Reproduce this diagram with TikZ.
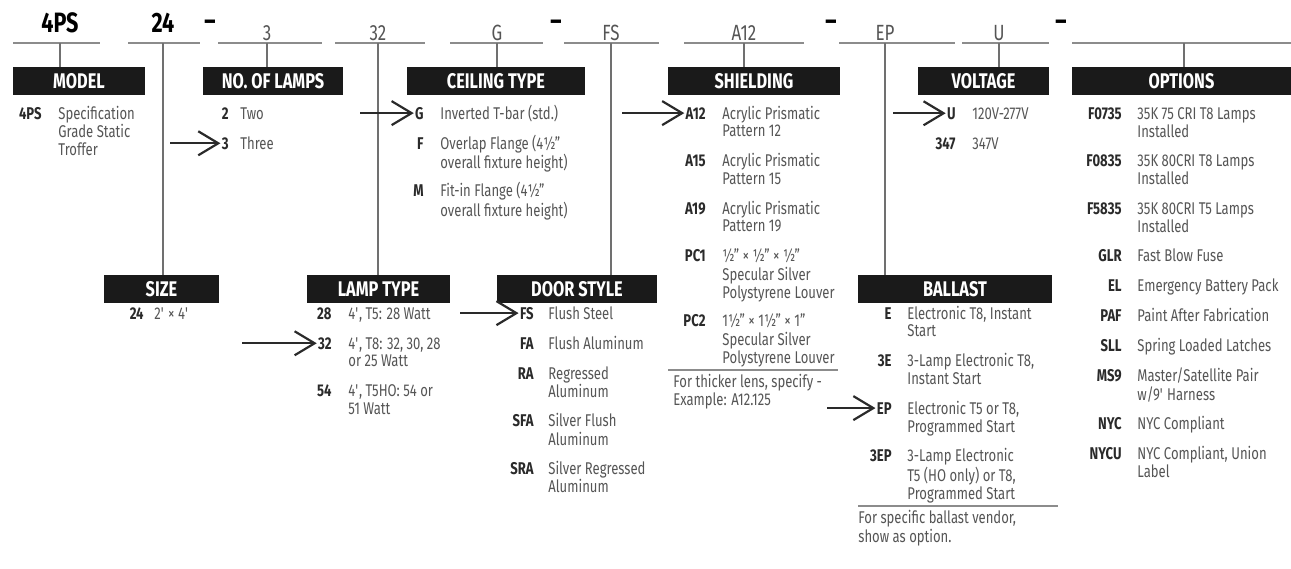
\documentclass[tikz,border=0pt]{standalone}
\usepackage{fontspec}
\setmainfont{Fira Sans}[FakeStretch=0.77]
\usetikzlibrary{arrows.meta}
\definecolor{ink}{HTML}{2A2A2A}
\definecolor{txt}{HTML}{555555}
\definecolor{rulegray}{HTML}{8C8C8C}
\definecolor{boxblack}{HTML}{1A1A1A}
\def\ft{\textquotesingle}
\def\lines#1{\begin{tabular}[t]{@{}l@{}}#1\end{tabular}}

\tikzset{
  head/.style={fill=boxblack, text=white, font=\fontsize{10.6}{12}\selectfont\bfseries, minimum height=14pt, inner sep=0pt},
  code/.style={anchor=base east, inner sep=0.5pt, text=ink, font=\fontsize{8.5}{8.75}\selectfont\bfseries},
  desc/.style={anchor=base west, inner sep=0pt, text=txt, font=\fontsize{8.5}{8.75}\selectfont},
  bigcode/.style={anchor=base, inner sep=0pt, text=black, font=\fontsize{14}{14}\selectfont\bfseries},
  pick/.style={anchor=base, inner sep=0pt, text=txt, font=\fontsize{11}{11}\selectfont},
  rule/.style={draw=rulegray, line width=0.8pt},
  stem/.style={draw=rulegray!80!black, line width=0.7pt},
  sep/.style={draw=rulegray, line width=1pt},
  pointer/.style={draw=ink, line width=1.1pt, -{Straight Barb[length=10pt,width=12pt]}}
}

\begin{document}
\begin{tikzpicture}[x=0.5pt, y=-0.5pt]
  \useasboundingbox (0,0) rectangle (1291,568);

  % the catalog number
  \node[bigcode] (c4ps) at (60,32) {4PS};
  \node[bigcode] (c24) at (163,32) {24};
  \node[bigcode] (d1) at (210,30) {–};
  \node[pick] (c3) at (267,40) {3};
  \node[pick] (c32) at (378,40) {32};
  \node[pick] (cg) at (497,40) {G};
  \node[bigcode] (d2) at (556,30) {–};
  \node[pick] (cfs) at (611,40) {FS};
  \node[pick] (ca12) at (744,40) {A12};
  \node[bigcode] (d3) at (831,30) {–};
  \node[pick] (cep) at (885,40) {EP};
  \node[pick] (cu) at (999,40) {U};
  \node[bigcode] (d4) at (1061,30) {–};
  \coordinate (copt) at (1184,43);

  \draw[rule] (13,43) -- (100,43);
  \draw[rule] (128,43) -- (200,43);
  \draw[rule] (218,43) -- (322,43);
  \draw[rule] (335,43) -- (425,43);
  \draw[rule] (450,43) -- (543,43);
  \draw[rule] (564,43) -- (659,43);
  \draw[rule] (684,43) -- (804,43);
  \draw[rule] (839,43) -- (955,43);
  \draw[rule] (962,43) -- (1049,43);
  \draw[rule] (1072,43) -- (1291,43);

  % headings
  \node[head, minimum width=66pt] (model) at (79,81) {MODEL};
  \node[head, minimum width=70pt] (lamps) at (273,81) {NO. OF LAMPS};
  \node[head, minimum width=89pt] (ceiling) at (496,81) {CEILING TYPE};
  \node[head, minimum width=86pt] (shield) at (754,81) {SHIELDING};
  \node[head, minimum width=65.5pt] (volt) at (983.5,81) {VOLTAGE};
  \node[head, minimum width=109.5pt] (options) at (1181.5,81) {OPTIONS};
  \node[head, minimum width=57.5pt] (size) at (161.5,289) {SIZE};
  \node[head, minimum width=71.5pt] (ltype) at (378.5,289) {LAMP TYPE};
  \node[head, minimum width=80pt] (door) at (577,289) {DOOR STYLE};
  \node[head, minimum width=97pt] (ballast) at (955,289) {BALLAST};

  \draw[stem] (c4ps |- copt) -- (model.north -| c4ps);
  \draw[stem] (c24 |- copt) -- (size.north -| c24);
  \draw[stem] (c3 |- copt) -- (lamps.north -| c3);
  \draw[stem] (c32 |- copt) -- (ltype.north -| c32);
  \draw[stem] (cg |- copt) -- (ceiling.north -| cg);
  \draw[stem] (cfs |- copt) -- (door.north -| cfs);
  \draw[stem] (ca12 |- copt) -- (shield.north -| ca12);
  \draw[stem] (cep |- copt) -- (ballast.north -| cep);
  \draw[stem] (cu |- copt) -- (volt.north -| cu);
  \draw[stem] (copt) -- (options.north -| copt);

  % model
  \node[code] (m1) at (43,119) {4PS};
  \node[desc] (m1d) at (58,119) {\lines{Specification\\Grade Static\\Troffer}};

  % no. of lamps
  \node[code] (n2) at (230,119) {2};
  \node[desc] (n2d) at (240,119) {Two};
  \node[code] (n3) at (230,149) {3};
  \node[desc] (n3d) at (240,149) {Three};

  % ceiling type
  \node[code] (g1) at (425,119) {G};
  \node[desc] (g1d) at (440,119) {Inverted T-bar (std.)};
  \node[code] (g2) at (425,149) {F};
  \node[desc] (g2d) at (440,149) {\lines{Overlap Flange (4½"\\overall fixture height)}};
  \node[code] (g3) at (425,196.5) {M};
  \node[desc] (g3d) at (440,196.5) {\lines{Fit-in Flange (4½"\\overall fixture height)}};

  % shielding
  \node[code] (s1) at (707,119) {A12};
  \node[desc] (s1d) at (722,119) {\lines{Acrylic Prismatic\\Pattern 12}};
  \node[code] (s2) at (707,166.5) {A15};
  \node[desc] (s2d) at (722,166.5) {\lines{Acrylic Prismatic\\Pattern 15}};
  \node[code] (s3) at (707,214) {A19};
  \node[desc] (s3d) at (722,214) {\lines{Acrylic Prismatic\\Pattern 19}};
  \node[code] (s4) at (707,261.5) {PC1};
  \node[desc] (s4d) at (722,261.5) {\lines{½" × ½" × ½"\\Specular Silver\\Polystyrene Louver}};
  \node[code] (s5) at (707,326.5) {PC2};
  \node[desc] (s5d) at (722,326.5) {\lines{1½" × 1½" × 1"\\Specular Silver\\Polystyrene Louver}};
  \draw[sep] (668,370) -- (838,370);
  \node[desc] (snote) at (673,387) {\lines{For thicker lens, specify -\\Example: A12.125}};

  % voltage
  \node[code] (v1) at (957,119) {U};
  \node[desc] (v1d) at (972,119) {120V-277V};
  \node[code] (v2) at (957,149) {347};
  \node[desc] (v2d) at (972,149) {347V};

  % options
  \node[code] (o1) at (1123,119) {F0735};
  \node[desc] (o1d) at (1137,119) {\lines{35K 75 CRI T8 Lamps\\Installed}};
  \node[code] (o2) at (1123,166.5) {F0835};
  \node[desc] (o2d) at (1137,166.5) {\lines{35K 80CRI T8 Lamps\\Installed}};
  \node[code] (o3) at (1123,214) {F5835};
  \node[desc] (o3d) at (1137,214) {\lines{35K 80CRI T5 Lamps\\Installed}};
  \node[code] (o4) at (1123,261.5) {GLR};
  \node[desc] (o4d) at (1137,261.5) {Fast Blow Fuse};
  \node[code] (o5) at (1123,291.5) {EL};
  \node[desc] (o5d) at (1137,291.5) {Emergency Battery Pack};
  \node[code] (o6) at (1123,321.5) {PAF};
  \node[desc] (o6d) at (1137,321.5) {Paint After Fabrication};
  \node[code] (o7) at (1123,351.5) {SLL};
  \node[desc] (o7d) at (1137,351.5) {Spring Loaded Latches};
  \node[code] (o8) at (1123,381.5) {MS9};
  \node[desc] (o8d) at (1137,381.5) {\lines{Master/Satellite Pair\\w/9\ft{} Harness}};
  \node[code] (o9) at (1123,429) {NYC};
  \node[desc] (o9d) at (1137,429) {NYC Compliant};
  \node[code] (o10) at (1123,459) {NYCU};
  \node[desc] (o10d) at (1137,459) {\lines{NYC Compliant, Union\\Label}};

  % size
  \node[code] (z1) at (145,319) {24};
  \node[desc] (z1d) at (154,319) {2\ft{} × 4\ft};

  % lamp type
  \node[code] (l1) at (333,319) {28};
  \node[desc] (l1d) at (348,319) {4\ft, T5: 28 Watt};
  \node[code] (l2) at (333,349) {32};
  \node[desc] (l2d) at (348,349) {\lines{4\ft, T8: 32, 30, 28\\or 25 Watt}};
  \node[code] (l3) at (333,396.5) {54};
  \node[desc] (l3d) at (348,396.5) {\lines{4\ft, T5HO: 54 or\\51 Watt}};

  % door style
  \node[code] (f1) at (535,319) {FS};
  \node[desc] (f1d) at (548,319) {Flush Steel};
  \node[code] (f2) at (535,349) {FA};
  \node[desc] (f2d) at (548,349) {Flush Aluminum};
  \node[code] (f3) at (535,379) {RA};
  \node[desc] (f3d) at (548,379) {\lines{Regressed\\Aluminum}};
  \node[code] (f4) at (535,426.5) {SFA};
  \node[desc] (f4d) at (548,426.5) {\lines{Silver Flush\\Aluminum}};
  \node[code] (f5) at (535,474) {SRA};
  \node[desc] (f5d) at (548,474) {\lines{Silver Regressed\\Aluminum}};

  % ballast
  \node[code] (b1) at (893,319) {E};
  \node[desc] (b1d) at (907,319) {\lines{Electronic T8, Instant\\Start}};
  \node[code] (b2) at (893,366.5) {3E};
  \node[desc] (b2d) at (907,366.5) {\lines{3-Lamp Electronic T8,\\Instant Start}};
  \node[code] (b3) at (893,414) {EP};
  \node[desc] (b3d) at (907,414) {\lines{Electronic T5 or T8,\\Programmed Start}};
  \node[code] (b4) at (893,461.5) {3EP};
  \node[desc] (b4d) at (907,461.5) {\lines{3-Lamp Electronic\\T5 (HO only) or T8,\\Programmed Start}};
  \draw[sep] (858,506) -- (1058,506);
  \node[desc] (bnote) at (858,523.5) {\lines{For specific ballast vendor,\\show as option.}};

  % selected options
  \coordinate (a3) at (170,0);
  \coordinate (ag) at (360,0);
  \coordinate (aa12) at (622,0);
  \coordinate (au) at (893,0);
  \coordinate (a32) at (242,0);
  \coordinate (afs) at (460,0);
  \coordinate (aep) at (827,0);
  \draw[pointer] (a3 |- n3) -- (n3);
  \draw[pointer] (ag |- g1) -- (g1);
  \draw[pointer] (aa12 |- s1) -- (s1);
  \draw[pointer] (au |- v1) -- (v1);
  \draw[pointer] (a32 |- l2) -- (l2);
  \draw[pointer] (afs |- f1) -- (f1);
  \draw[pointer] (aep |- b3) -- (b3);
\end{tikzpicture}
\end{document}
